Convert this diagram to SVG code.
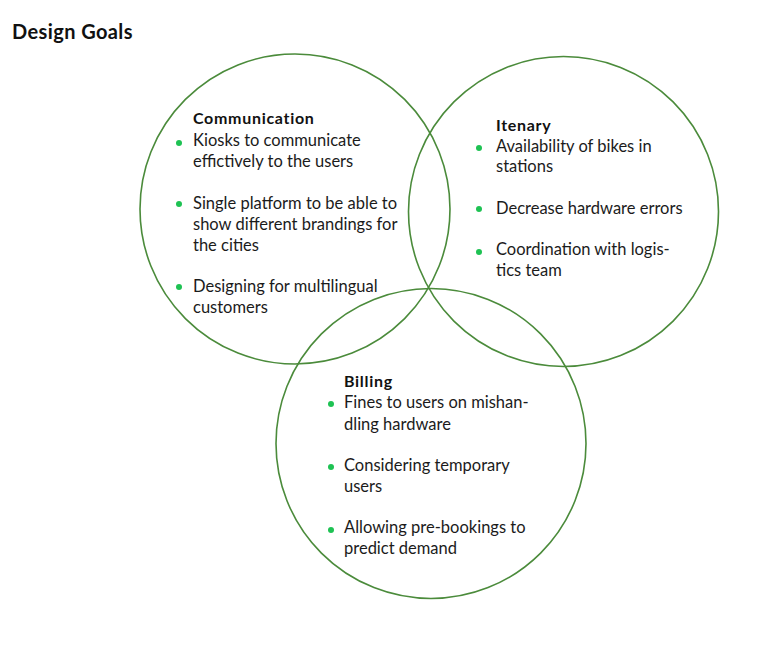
<svg xmlns="http://www.w3.org/2000/svg" width="768" height="651" viewBox="0 0 768 651">
  <style>
    .ring { fill: none; stroke: #4b8b3b; stroke-width: 1.6; }
    .t { font-family: "Lato", "Noto Sans", "Liberation Sans", sans-serif; font-size: 16.5px; fill: #1b1b1b; }
    .h { font-family: "Lato", "Noto Sans", "Liberation Sans", sans-serif; font-size: 16px; font-weight: bold; fill: #111; letter-spacing: 0.7px; }
    .title { font-family: "Lato", "Noto Sans", "Liberation Sans", sans-serif; font-size: 20px; font-weight: bold; fill: #111; letter-spacing: 0.4px; }
    .dot { fill: #1ec253; }
  </style>
  <rect width="768" height="651" fill="#ffffff"/>
  <text class="title" x="12" y="39">Design Goals</text>

  <g id="communication">
    <circle class="ring" cx="295" cy="209" r="155"/>
    <text class="h" x="193" y="124">Communication</text>
    <circle class="dot" cx="179" cy="143" r="3"/>
    <text class="t" x="193" y="146">Kiosks to communicate</text>
    <text class="t" x="193" y="167">effictively to the users</text>
    <circle class="dot" cx="179" cy="204" r="3"/>
    <text class="t" x="193" y="209">Single platform to be able to</text>
    <text class="t" x="193" y="230">show different brandings for</text>
    <text class="t" x="193" y="251">the cities</text>
    <circle class="dot" cx="179" cy="287" r="3"/>
    <text class="t" x="193" y="292">Designing for multilingual</text>
    <text class="t" x="193" y="313">customers</text>
  </g>

  <g id="itenary">
    <circle class="ring" cx="563.5" cy="211.5" r="155"/>
    <text class="h" x="496" y="131">Itenary</text>
    <circle class="dot" cx="479" cy="148" r="3"/>
    <text class="t" x="496" y="152">Availability of bikes in</text>
    <text class="t" x="496" y="172">stations</text>
    <circle class="dot" cx="479" cy="209" r="3"/>
    <text class="t" x="496" y="214">Decrease hardware errors</text>
    <circle class="dot" cx="479" cy="252" r="3"/>
    <text class="t" x="496" y="255">Coordination with logis-</text>
    <text class="t" x="496" y="276">tics team</text>
  </g>

  <g id="billing">
    <circle class="ring" cx="431" cy="443.5" r="155"/>
    <text class="h" x="344" y="387">Billing</text>
    <circle class="dot" cx="331" cy="404" r="3"/>
    <text class="t" x="344" y="408">Fines to users on mishan-</text>
    <text class="t" x="344" y="430">dling hardware</text>
    <circle class="dot" cx="331" cy="467" r="3"/>
    <text class="t" x="344" y="471">Considering temporary</text>
    <text class="t" x="344" y="492">users</text>
    <circle class="dot" cx="331" cy="530" r="3"/>
    <text class="t" x="344" y="533">Allowing pre-bookings to</text>
    <text class="t" x="344" y="554">predict demand</text>
  </g>

  <g id="connectors"></g>
</svg>
